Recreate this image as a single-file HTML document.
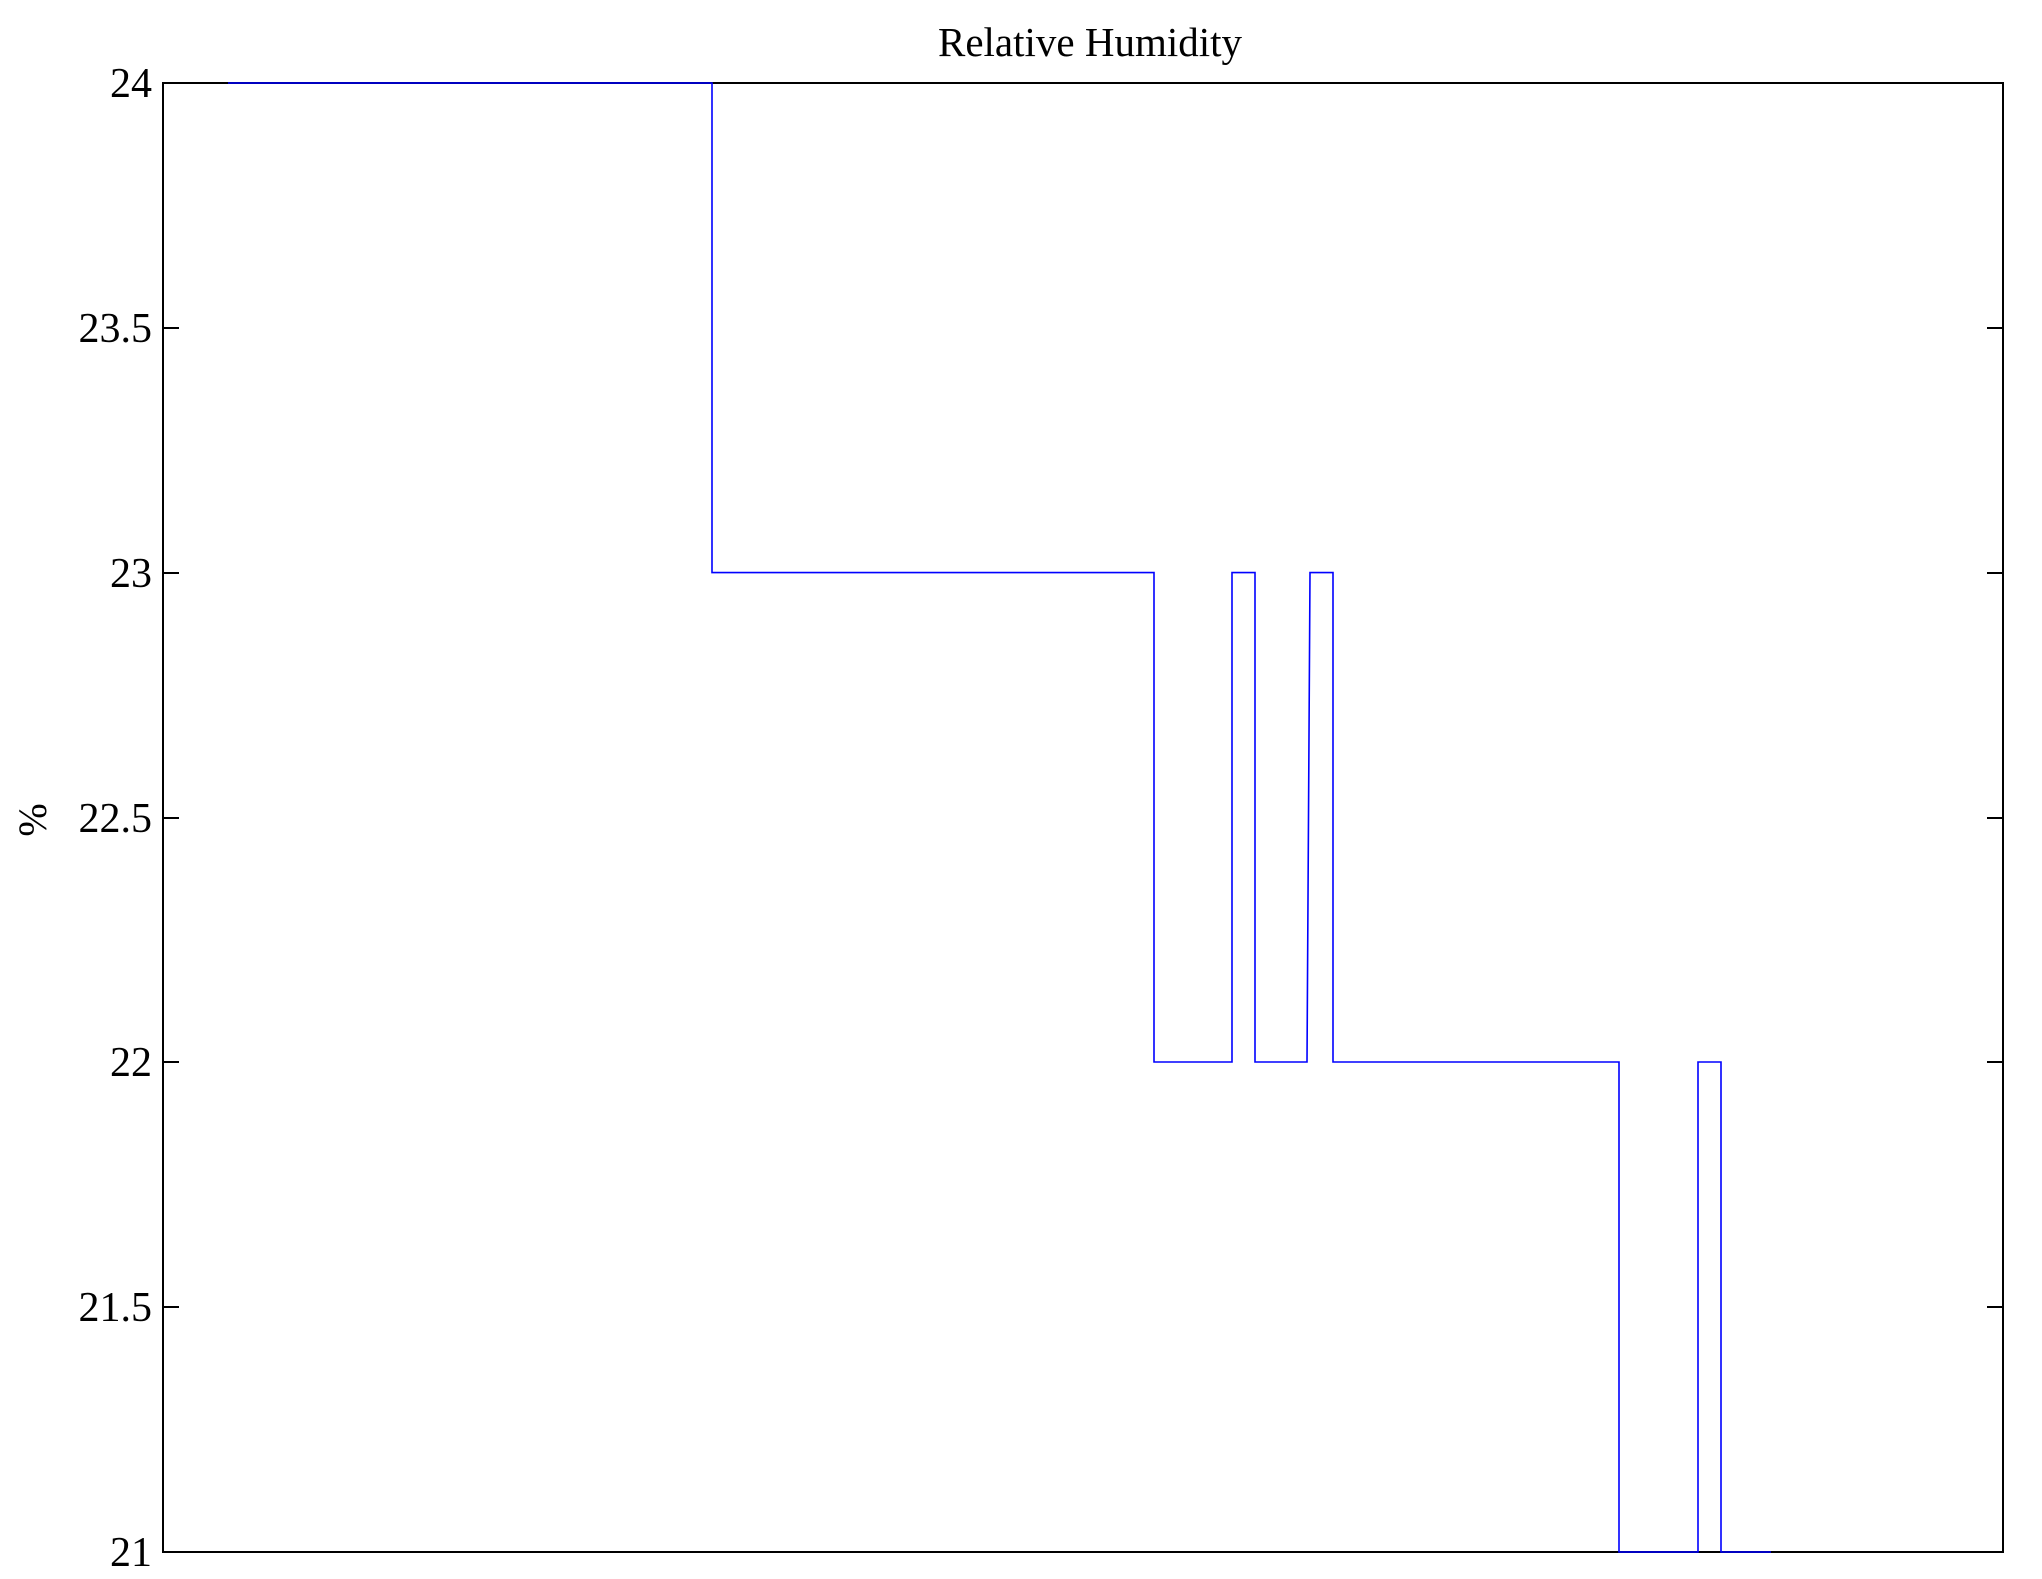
<!DOCTYPE html>
<html><head><style>body{margin:0;background:#fff}svg{display:block}</style></head><body>
<svg width="2042" height="1579" viewBox="0 0 2042 1579" xmlns="http://www.w3.org/2000/svg" font-family="Liberation Serif, serif">
<rect width="2042" height="1579" fill="#fff"/>
<text x="1090" y="56" font-size="41" text-anchor="middle">Relative Humidity</text>
<text transform="translate(46,820) rotate(-90)" font-size="40" text-anchor="middle">%</text>
<g font-size="42" text-anchor="end">
<text x="152" y="97">24</text>
<text x="152" y="342">23.5</text>
<text x="152" y="587">23</text>
<text x="152" y="832">22.5</text>
<text x="152" y="1076">22</text>
<text x="152" y="1321">21.5</text>
<text x="152" y="1566">21</text>
</g>
<rect x="163" y="83" width="1840" height="1469" fill="none" stroke="#000" stroke-width="2"/>
<g stroke="#000" stroke-width="2">
<path d="M163 328h16M163 573h16M163 818h16M163 1062h16M163 1307h16"/>
<path d="M2003 328h-16M2003 573h-16M2003 818h-16M2003 1062h-16M2003 1307h-16"/>
</g>
<polyline fill="none" stroke="#0000ff" stroke-width="1.6" points="228,83 712,83 712,572.6 1154,572.6 1154,1062 1232,1062 1232,572.6 1255,572.6 1255,1062 1307,1062 1310,572.6 1333,572.6 1333,1062 1619,1062 1619,1552 1698,1552 1698,1062 1721,1062 1721,1552 1771,1552"/>
</svg>
</body></html>
